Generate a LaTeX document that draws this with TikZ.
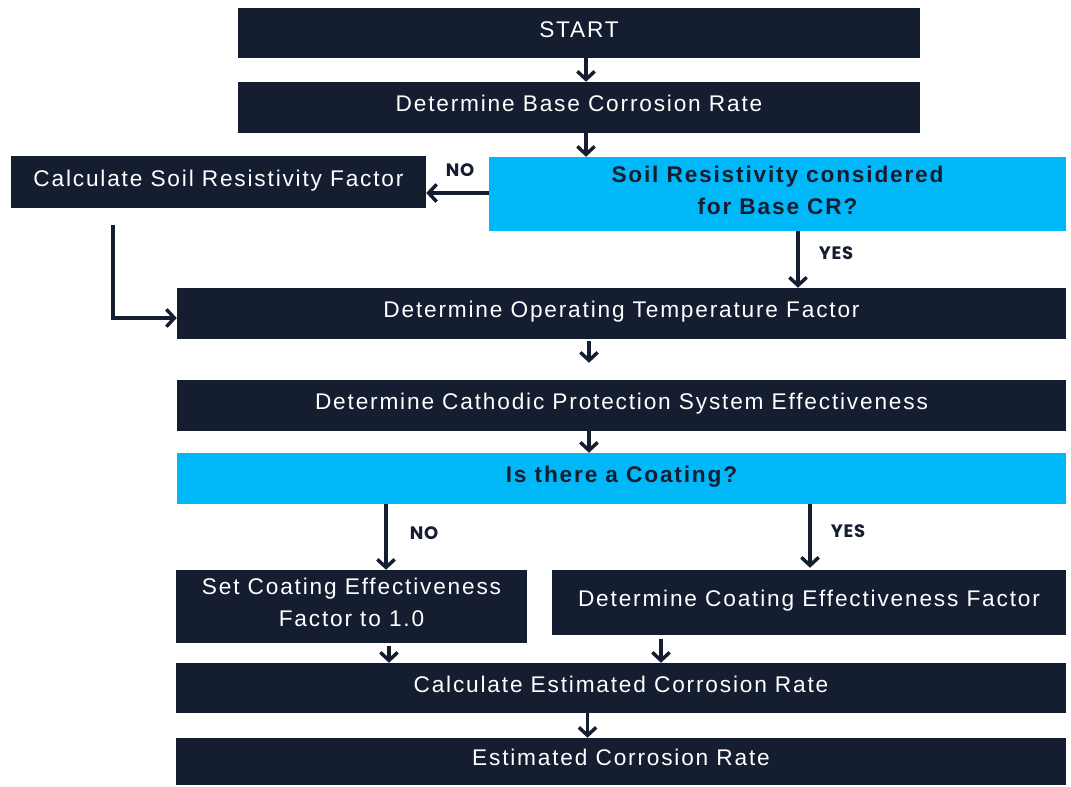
\documentclass[tikz,border=0pt]{standalone}
\usepackage{fontspec}
\setmainfont{Liberation Sans}[LetterSpace=8]
\newfontfamily\labfont{Poppins}[LetterSpace=4]
\usetikzlibrary{arrows.meta,calc,fit}
\definecolor{navy}{HTML}{151D30}
\definecolor{cyanbox}{HTML}{00B8F8}
\begin{document}
\begin{tikzpicture}[x=0.75pt,y=-0.75pt,
  box/.style={fill=navy, inner sep=0pt},
  dec/.style={fill=cyanbox, inner sep=0pt},
  tx/.style={text=white, inner sep=0pt, align=center, text height=12.2pt, text depth=0pt, yshift=2.8pt,
    font=\fontsize{17pt}{24pt}\selectfont},
  tx2/.style={tx, text height=36.2pt},
  dtx/.style={tx, text=navy, font=\fontsize{17pt}{24pt}\selectfont\bfseries},
  dtx2/.style={dtx, text height=36.2pt},
  arr/.style={draw=navy, line width=2.6pt, -{Straight Barb[length=6pt,width=13pt]}},
  lab/.style={text=navy, inner sep=0pt, font=\labfont\bfseries\fontsize{13.5pt}{15pt}\selectfont}]
\useasboundingbox (0,0) rectangle (1071,786);

\node[box, fit={(238,8)(920,58)}, label={[tx]center:START}] (start) {};
\node[box, fit={(238,82)(920,133)}, label={[tx]center:Determine Base Corrosion Rate}] (base) {};
\node[box, fit={(11,156)(426,208)}, label={[tx]center:Calculate Soil Resistivity Factor}] (soil) {};
\node[dec, fit={(489,157)(1066,231)}, label={[dtx2]center:{Soil Resistivity considered\\ for Base CR?}}] (dsoil) {};
\node[box, fit={(177,288)(1066,339)}, label={[tx]center:Determine Operating Temperature Factor}] (op) {};
\node[box, fit={(177,380)(1066,431)}, label={[tx]center:Determine Cathodic Protection System Effectiveness}] (cath) {};
\node[dec, fit={(177,453)(1066,504)}, label={[dtx]center:Is there a Coating?}] (dcoat) {};
\node[box, fit={(176,570)(527,643)}, label={[tx2]center:{Set Coating Effectiveness\\ Factor to 1.0}}] (set) {};
\node[box, fit={(552,570)(1066,635)}, label={[tx]center:Determine Coating Effectiveness Factor}] (det) {};
\node[box, fit={(176,663)(1066,713)}, label={[tx]center:Calculate Estimated Corrosion Rate}] (calc) {};
\node[box, fit={(176,738)(1066,785)}, label={[tx]center:Estimated Corrosion Rate}] (est) {};

% connectors
\coordinate (a1) at ($(start.south)+(7,0)$);
\draw[arr] (a1) -- (a1 |- base.north);
\coordinate (a2) at ($(base.south)+(7,0)$);
\draw[arr] (a2) -- (a2 |- dsoil.north);
\coordinate (a3) at ($(dsoil.west)+(0,-1)$);
\draw[arr] (a3) -- (a3 -| soil.east);
\coordinate (a4) at ($(dsoil.south)+(20.5,0)$);
\draw[arr] (a4) -- (a4 |- op.north);
\coordinate (a5) at ($(soil.south)+(-105.5,17)$);
\coordinate (b5) at ($(op.west)+(0,4.5)$);
\draw[arr] (a5) |- (b5);
\coordinate (a6) at ($(op.south)+(-32.5,2)$);
\coordinate (e6) at ($(cath.north)+(-32.5,-17)$);
\draw[arr] (a6) -- (e6);
\coordinate (a7) at ($(cath.south)+(-32.5,0)$);
\draw[arr] (a7) -- (a7 |- dcoat.north);
\coordinate (a8) at ($(dcoat.south)+(-235.5,0)$);
\draw[arr] (a8) -- (a8 |- set.north);
\coordinate (a9) at ($(dcoat.south)+(188.5,0)$);
\draw[arr] (a9) -- ($(a9 |- det.north)+(0,-2)$);
\coordinate (a10) at ($(set.south)+(37.5,3)$);
\draw[arr] (a10) -- (a10 |- calc.north);
\coordinate (a11) at ($(det.south)+(-148,4)$);
\draw[arr] (a11) -- (a11 |- calc.north);
\coordinate (a12) at ($(calc.south)+(-33.5,0)$);
\draw[arr] (a12) -- (a12 |- est.north);

% labels
\node[lab] (no1) at (460,170) {NO};
\node[lab] (yes1) at (836,253) {YES};
\node[lab] (no2) at (424,533) {NO};
\node[lab] (yes2) at (848,531) {YES};
\end{tikzpicture}
\end{document}
